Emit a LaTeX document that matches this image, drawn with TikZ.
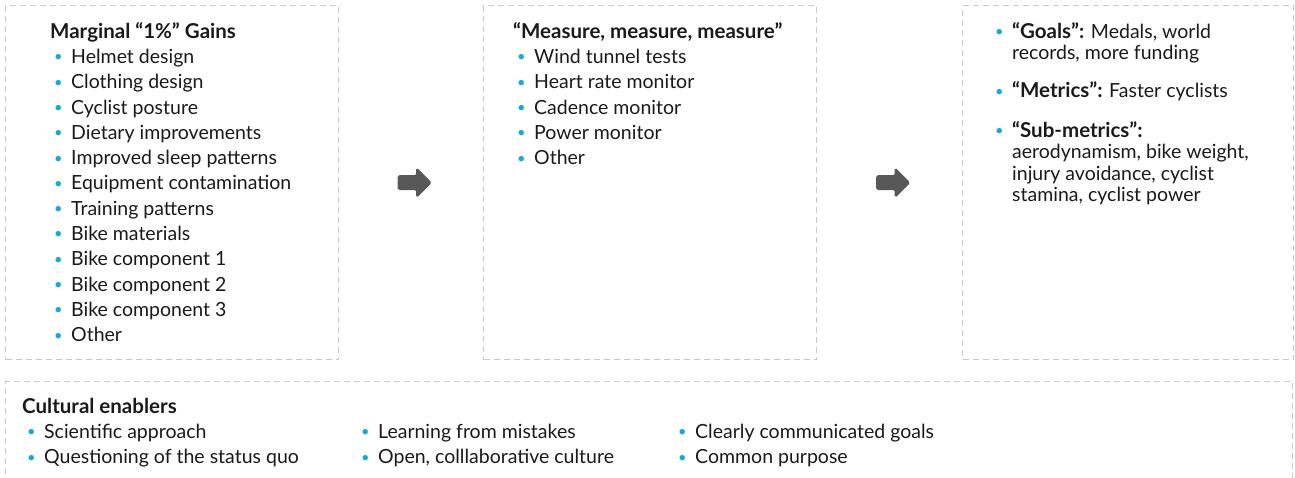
\documentclass[tikz,border=0pt]{standalone}
\usepackage{fontspec}
\setmainfont{Lato}
\usetikzlibrary{positioning,calc,shapes.arrows}
\definecolor{boxgray}{RGB}{200,200,200}
\definecolor{bulletblue}{RGB}{24,168,216}
\definecolor{arrowgray}{RGB}{88,88,88}
\definecolor{textblack}{RGB}{26,26,26}
\tikzstyle{dashbox} = [draw=boxgray, line width=1.3pt, dash pattern=on 6pt off 4pt,
    rectangle, anchor=north west, inner sep=0pt]
\tikzstyle{listtext} = [inner sep=0pt, align=left, text=textblack,
    font=\fontsize{19.5}{25.3}\selectfont]
\tikzstyle{blockarrow} = [single arrow, fill=arrowgray, draw=arrowgray, line width=1pt,
    rounded corners=1.5pt, inner xsep=0pt, inner ysep=6.5pt, minimum height=33pt,
    single arrow head extend=7.5pt, single arrow tip angle=90]
\newcommand{\bitem}[1]{\hspace*{4pt}\makebox[17pt][l]{\textcolor{bulletblue}{\raisebox{1.6pt}{\scalebox{0.75}{•}}}}#1}
\newcommand{\hd}[1]{{\fontsize{20.5}{25.3}\selectfont\bfseries #1}}

\begin{document}
\begin{tikzpicture}[x=1pt,y=-1pt]
  \useasboundingbox (0,0) rectangle (1295,477);
  \clip (0,0) rectangle (1295,477);
  \node[dashbox, minimum width=333pt, minimum height=354pt] (gains) at (5,5) {};
  \node[dashbox, minimum width=333pt, minimum height=354pt] (measure) at (483,5) {};
  \node[dashbox, minimum width=331pt, minimum height=354pt] (goals) at (962,5) {};
  \node[dashbox, minimum width=1287pt, minimum height=140pt] (enablers) at (5,381) {};
  \node[blockarrow] (arr1) at ($(gains.east)!0.5!(measure.west)$) {};
  \node[blockarrow] (arr2) at ($(measure.east)!0.5!(goals.west)$) {};
  \node[listtext, below right=17pt and 45pt of gains.north west] (gainslist) {%
    \hd{Marginal “1\%” Gains}\\
    \bitem{Helmet design}\\
    \bitem{Clothing design}\\
    \bitem{Cyclist posture}\\
    \bitem{Dietary improvements}\\
    \bitem{Improved sleep patterns}\\
    \bitem{Equipment contamination}\\
    \bitem{Training patterns}\\
    \bitem{Bike materials}\\
    \bitem{Bike component 1}\\
    \bitem{Bike component 2}\\
    \bitem{Bike component 3}\\
    \bitem{Other}};
  \node[listtext, below right=17pt and 30pt of measure.north west] (measurelist) {%
    \hd{“Measure, measure, measure”}\\
    \bitem{Wind tunnel tests}\\
    \bitem{Heart rate monitor}\\
    \bitem{Cadence monitor}\\
    \bitem{Power monitor}\\
    \bitem{Other}};
  \node[listtext, below right=17pt and 29pt of goals.north west,
        font=\fontsize{19.5}{21.5}\selectfont] (goalslist) {%
    \bitem{\hd{“Goals”:} Medals, world}\\
    \hspace*{21pt}records, more funding\\[16.5pt]
    \bitem{\hd{“Metrics”:} Faster cyclists}\\[18pt]
    \bitem{\hd{“Sub-metrics”:}}\\
    \hspace*{21pt}aerodynamism, bike weight,\\
    \hspace*{21pt}injury avoidance, cyclist\\
    \hspace*{21pt}stamina, cyclist power};
  \node[listtext, below right=17pt and 17pt of enablers.north west] (enablershead) {%
    \hd{Cultural enablers}};
  \node[listtext, below right=43pt and 18pt of enablers.north west] (col1) {%
    \bitem{Scientific approach}\\
    \bitem{Questioning of the status quo}};
  \node[listtext, below right=43pt and 352pt of enablers.north west] (col2) {%
    \bitem{Learning from mistakes}\\
    \bitem{Open, colllaborative culture}};
  \node[listtext, below right=43pt and 669pt of enablers.north west] (col3) {%
    \bitem{Clearly communicated goals}\\
    \bitem{Common purpose}};
\end{tikzpicture}
\end{document}
